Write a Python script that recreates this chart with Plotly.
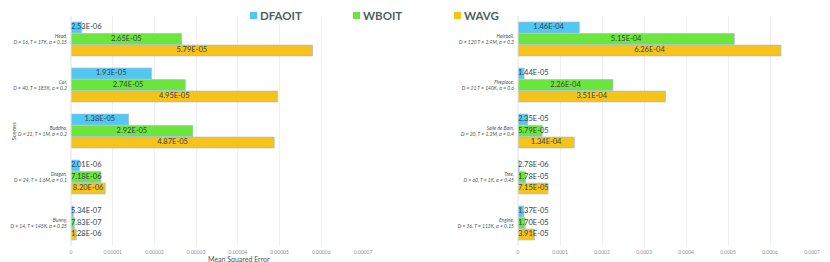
import plotly.graph_objects as go

series = ["DFAOIT", "WBOIT", "WAVG"]
colors = ["#4fc8f4", "#6be63b", "#f6c31a"]

left_scenes = [
    "Head,<br>D = 16, T = 17K, α = 0.15",
    "Car,<br>D = 40, T = 185K, α = 0.2",
    "Buddha,<br>D = 21, T = 1M, α = 0.2",
    "Dragon,<br>D = 24, T = 1.6M, α = 0.1",
    "Bunny,<br>D = 14, T = 145K, α = 0.25",
]
right_scenes = [
    "Hairball,<br>D = 120 T = 2.9M, α = 0.3",
    "Fireplace,<br>D = 21 T = 140K, α = 0.6",
    "Salle de Bain,<br>D = 20, T = 1.2M, α = 0.4",
    "Tree,<br>D = 60, T = 1K, α = 0.45",
    "Engine,<br>D = 36, T = 113K, α = 0.15",
]
left_values = {
    "DFAOIT": [2.53e-06, 1.93e-05, 1.38e-05, 2.01e-06, 5.34e-07],
    "WBOIT": [2.65e-05, 2.74e-05, 2.92e-05, 7.18e-06, 7.83e-07],
    "WAVG": [5.79e-05, 4.95e-05, 4.87e-05, 8.20e-06, 1.28e-06],
}
right_values = {
    "DFAOIT": [1.46e-04, 1.44e-05, 2.35e-05, 2.78e-06, 1.37e-05],
    "WBOIT": [5.15e-04, 2.26e-04, 5.79e-05, 1.78e-05, 1.70e-05],
    "WAVG": [6.26e-04, 3.51e-04, 1.34e-04, 7.15e-05, 3.91e-05],
}
left_ticks = [0, 0.00001, 0.00002, 0.00003, 0.00004, 0.00005, 0.00006, 0.00007]
left_ticktext = ["0", "0.00001", "0.00002", "0.00003", "0.00004", "0.00005", "0.00006", "0.00007"]
right_ticks = [0, 0.0001, 0.0002, 0.0003, 0.0004, 0.0005, 0.0006, 0.0007]
right_ticktext = ["0", "0.0001", "0.0002", "0.0003", "0.0004", "0.0005", "0.0006", "0.0007"]

FONT = "Lato"
offsets = [-0.25, 0.0, 0.25]
bar_w = 0.235

# page body has an 8px margin: figure is drawn at (8, 8)
W, H = 822, 254
OX, OY = 8, 8
legend_x = [250, 353, 454]  # screen x of legend squares

fig = go.Figure()

def add_panel(values, xa, ya, xmax):
    min_label = xmax * 0.052
    for s, col, off in zip(series, colors, offsets):
        vals = values[s]
        ys = [i + off for i in range(len(vals))]
        fig.add_trace(go.Bar(
            x=vals, y=ys, orientation="h", width=bar_w, name=s,
            marker=dict(color=col, line=dict(color="rgba(165,190,205,0.75)", width=1)),
            showlegend=False, xaxis=xa, yaxis=ya,
        ))
        fig.add_trace(go.Scatter(
            x=[max(v / 2, min_label) for v in vals], y=ys, mode="text",
            text=[f"{v:.2E}" for v in vals],
            textfont=dict(size=7.5, color="#34434a", family=FONT),
            showlegend=False, xaxis=xa, yaxis=ya, hoverinfo="skip",
        ))

add_panel(left_values, "x", "y", 0.00007)
add_panel(right_values, "x2", "y2", 0.0007)

axis_common = dict(showgrid=True, gridcolor="#efefef", gridwidth=1, zeroline=False,
                   ticks="", tickfont=dict(size=5, color="#8a9494", family=FONT),
                   showline=False, automargin=False, ticklabelstandoff=2)
ycommon = dict(domain=[0, 1], range=[4.5, -0.5], tickvals=list(range(5)),
               showgrid=False, zeroline=False, ticks="", showline=False, automargin=False,
               ticklabelstandoff=3,
               tickfont=dict(size=5, color="#4a5656", family=FONT, style="italic"))

annotations = [
    dict(text="Mean Squared Error", xref="paper", yref="paper", x=(239 - OX) / W, y=0,
         yshift=-13, xanchor="center", yanchor="middle", showarrow=False,
         font=dict(size=7, color="#4a5656", family=FONT)),
    dict(text="Scenes", xref="paper", yref="paper", x=0, y=0.5, xshift=-1,
         textangle=-90, xanchor="left", yanchor="middle", showarrow=False,
         font=dict(size=6, color="#4a5656", family=FONT)),
]
shapes = [
    dict(type="line", xref="x domain", yref="y domain", x0=0, x1=0, y0=0, y1=1,
         line=dict(color="#dde3e6", width=1)),
    dict(type="line", xref="x2 domain", yref="y2 domain", x0=0, x1=0, y0=0, y1=1,
         line=dict(color="#dde3e6", width=1)),
]
for s, col, lx in zip(series, colors, legend_x):
    fx = lx - OX
    shapes.append(dict(type="rect", xref="paper", yref="paper",
                       x0=fx / W, x1=(fx + 7) / W,
                       ysizemode="pixel", yanchor=1, y0=-3, y1=4,
                       line=dict(width=0), fillcolor=col))
    annotations.append(dict(text=f"<b>{s}</b>", xref="paper", yref="paper",
                            x=(fx + 9) / W, y=1, yshift=16 - OY, xanchor="left", yanchor="top",
                            showarrow=False, borderpad=0,
                            font=dict(size=11.5, color="#4f5f60", family=FONT)))

fig.update_layout(
    width=W, height=H,
    margin=dict(l=0, r=0, t=16 - OY, b=H - (246 - OY)),
    paper_bgcolor="white", plot_bgcolor="white",
    barmode="overlay",
    font=dict(family=FONT),
    showlegend=False,
    xaxis=dict(domain=[(71 - OX) / W, (363 - OX) / W], range=[0, 0.00007], tickvals=left_ticks,
               ticktext=left_ticktext, anchor="y", **axis_common),
    xaxis2=dict(domain=[(518 - OX) / W, (812 - OX) / W], range=[0, 0.0007], tickvals=right_ticks,
                ticktext=right_ticktext, anchor="y2", **axis_common),
    yaxis=dict(ticktext=left_scenes, anchor="x", **ycommon),
    yaxis2=dict(ticktext=right_scenes, anchor="x2", **ycommon),
    annotations=annotations,
    shapes=shapes,
)

fig.write_html("out.html")
